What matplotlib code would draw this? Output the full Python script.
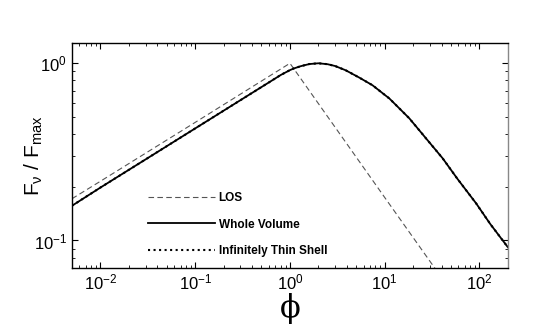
import matplotlib
matplotlib.use("Agg")
import matplotlib.pyplot as plt

plt.rcParams['font.family'] = ['Liberation Sans', 'DejaVu Sans']
plt.rcParams['mathtext.fontset'] = 'custom'
plt.rcParams['mathtext.rm'] = 'Liberation Sans'
plt.rcParams['mathtext.it'] = 'Liberation Sans:italic'

# values (phi, F_nu / F_max)
los_phi = [0.005, 0.01, 0.1, 1.0, 10.0, 50.0]
los_flux = [0.172, 0.216, 0.464, 1.0, 0.175, 0.052]

vol_phi = [0.005, 0.01, 0.03, 0.1, 0.3, 0.6, 0.8, 1.0, 1.1, 1.3, 1.6, 2.0, 2.5,
           3.0, 3.88, 5.4, 7.43, 11.2, 13.0, 18.2, 27.3, 40.9, 58.9, 92.3, 130.0, 200.0]
vol_flux = [0.157, 0.199, 0.287, 0.429, 0.619, 0.78, 0.859, 0.915, 0.935, 0.963, 0.99, 1.0, 0.988,
            0.965, 0.913, 0.83, 0.752, 0.633, 0.585, 0.489, 0.377, 0.291, 0.222, 0.162, 0.124, 0.0915]

shell_phi = list(vol_phi)
shell_flux = list(vol_flux)

fig = plt.figure(figsize=(5.45, 3.24), dpi=100)
ax = fig.add_axes([0.132, 0.173, 0.8, 0.694])

ax.loglog(los_phi, los_flux, '--', color='#555555', lw=0.8, dashes=(5, 3), label='LOS')
ax.loglog(vol_phi, vol_flux, '-', color='black', lw=1.3, label='Whole Volume')
ax.loglog(shell_phi, shell_flux, ':', color='black', lw=1.5, label='Infinitely Thin Shell')

ax.set_xlim(5e-3, 200)
ax.set_ylim(0.07, 1.3)

ax.tick_params(which='both', direction='in', top=True, right=True, labelsize=12)
ax.tick_params(which='major', length=4.5, width=0.8)
ax.tick_params(which='minor', length=2.5, width=0.6)
for s in ax.spines.values():
    s.set_linewidth(1.0)
ax.spines['right'].set_color('#888888')

ax.set_xlabel('ϕ', family=['DejaVu Serif'], fontsize=22, labelpad=0)
ax.set_ylabel(r'$\mathregular{F_\nu\ /\ F_{max}}$', fontsize=15)
ax.yaxis.set_label_coords(-0.062, 0.5)

leg = ax.legend(loc='lower left', bbox_to_anchor=(0.151, 0.0), frameon=False,
                handlelength=5.6, handletextpad=0.35, labelspacing=1.25,
                prop={'weight': 'bold', 'size': 8.5})

fig.savefig('out.png', dpi=100)
